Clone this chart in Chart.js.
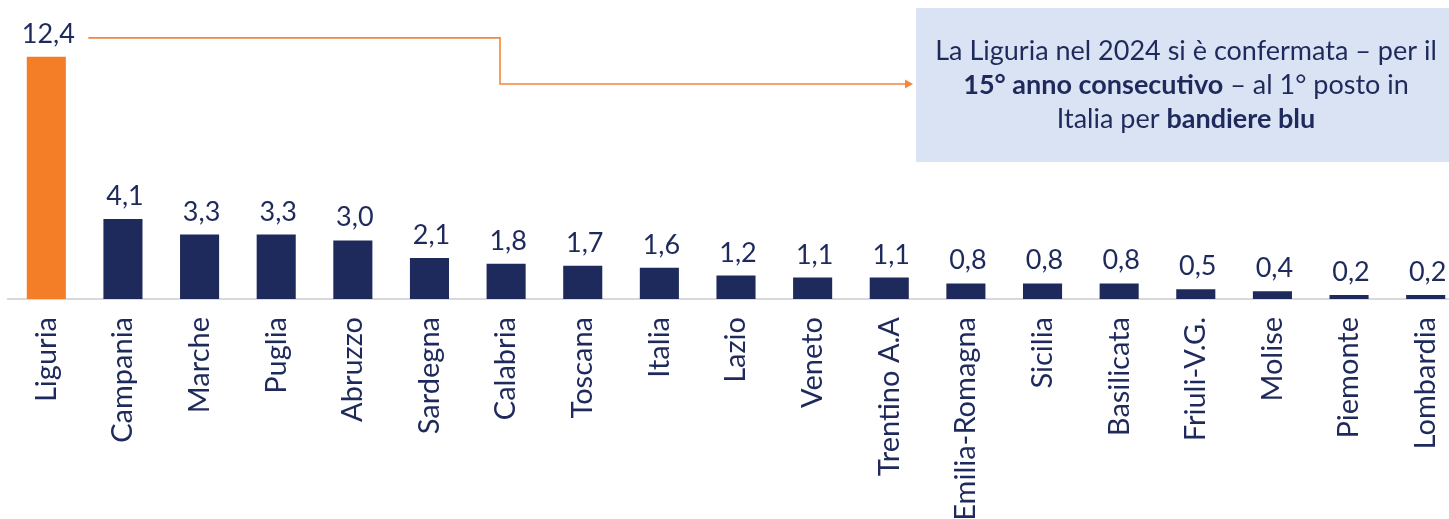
<!DOCTYPE html>
<html><head><meta charset="utf-8">
<script src="https://cdn.jsdelivr.net/npm/chart.js@4.4.1/dist/chart.umd.min.js"></script>
<style>
html,body{margin:0;padding:0;background:#fff;overflow:hidden;width:1449px;height:519px}
#wrap{width:1449px;height:519px;overflow:hidden;position:relative}
canvas{display:block;width:1464px;height:519px}
</style></head><body>
<div id="wrap"><canvas id="c" width="1464" height="519"></canvas></div>
<script>
const categories = ["Liguria","Campania","Marche","Puglia","Abruzzo","Sardegna","Calabria","Toscana","Italia","Lazio","Veneto","Trentino A.A","Emilia-Romagna","Sicilia","Basilicata","Friuli-V.G.","Molise","Piemonte","Lombardia"];
const values = [12.4,4.1,3.3,3.3,3.0,2.1,1.8,1.7,1.6,1.2,1.1,1.1,0.8,0.8,0.8,0.5,0.4,0.2,0.2];
const highlight = "Liguria";
const noteLines = [
  [["La Liguria nel 2024 si è confermata – per il", false]],
  [["15° anno consecutivo", true], [" – al 1° posto in", false]],
  [["Italia per ", false], ["bandiere blu", true]]
];

const NAVY = "#1f2a5c", ORANGE = "#f47e28", FONT = "Lato";

const labelPlugin = {
  id: "vals",
  afterDatasetsDraw(chart) {
    const ctx = chart.ctx;
    const meta = chart.getDatasetMeta(0);
    ctx.save();
    ctx.fillStyle = NAVY;
    ctx.font = "27px " + FONT;
    ctx.textAlign = "center";
    ctx.textBaseline = "alphabetic";
    meta.data.forEach((bar, i) => {
      ctx.fillText(values[i].toFixed(1).replace(".", ","), bar.x + 2, bar.y - 14);
    });
    // connector
    const b0 = meta.data[0];
    const sx = b0.x + 42, sy = b0.y - 19;
    const boxX = 916, boxY = 8, boxW = 560, boxH = 154;
    const midY = 84;
    ctx.strokeStyle = "#f4883a";
    ctx.lineWidth = 1.6;
    ctx.beginPath();
    ctx.moveTo(sx, sy);
    ctx.lineTo(500, sy);
    ctx.lineTo(500, midY);
    ctx.lineTo(boxX - 8, midY);
    ctx.stroke();
    ctx.fillStyle = "#f4883a";
    ctx.beginPath();
    ctx.moveTo(boxX - 3, midY);
    ctx.lineTo(boxX - 11, midY - 4.5);
    ctx.lineTo(boxX - 11, midY + 4.5);
    ctx.closePath();
    ctx.fill();
    // box
    ctx.fillStyle = "#dae3f3";
    ctx.fillRect(boxX, boxY, boxW, boxH);
    const cx = 1186;
    const ly = [60, 94, 128];
    ctx.fillStyle = NAVY;
    ctx.textBaseline = "alphabetic";
    ctx.textAlign = "left";
    noteLines.forEach((segs, li) => {
      let w = 0;
      segs.forEach(([t, b]) => { ctx.font = (b ? "bold " : "") + "27px " + FONT; w += ctx.measureText(t).width; });
      let x = cx - w / 2;
      segs.forEach(([t, b]) => { ctx.font = (b ? "bold " : "") + "27px " + FONT; ctx.fillText(t, x, ly[li]); x += ctx.measureText(t).width; });
    });
    ctx.restore();
  }
};

new Chart(document.getElementById("c"), {
  type: "bar",
  data: {
    labels: categories,
    datasets: [{
      data: values,
      backgroundColor: categories.map(c => c === highlight ? ORANGE : NAVY),
      barPercentage: 0.51,
      categoryPercentage: 1.0
    }]
  },
  options: {
    responsive: false,
    animation: false,
    devicePixelRatio: 1,
    layout: { padding: { left: 8, right: 0, top: 8, bottom: 0 } },
    plugins: { legend: { display: false }, tooltip: { enabled: false } },
    scales: {
      x: {
        grid: { display: false, drawTicks: false },
        border: { display: true, color: "#d9d9d9", width: 2 },
        ticks: { color: NAVY, font: { family: FONT, size: 29 }, minRotation: 90, maxRotation: 90, padding: 18, autoSkip: false },
        afterFit(s) { s.height = 220; s.paddingLeft = 0; s.paddingRight = 0; }
      },
      y: { display: false, min: 0, max: 14.9 }
    }
  },
  plugins: [labelPlugin]
});
</script>
</body></html>
